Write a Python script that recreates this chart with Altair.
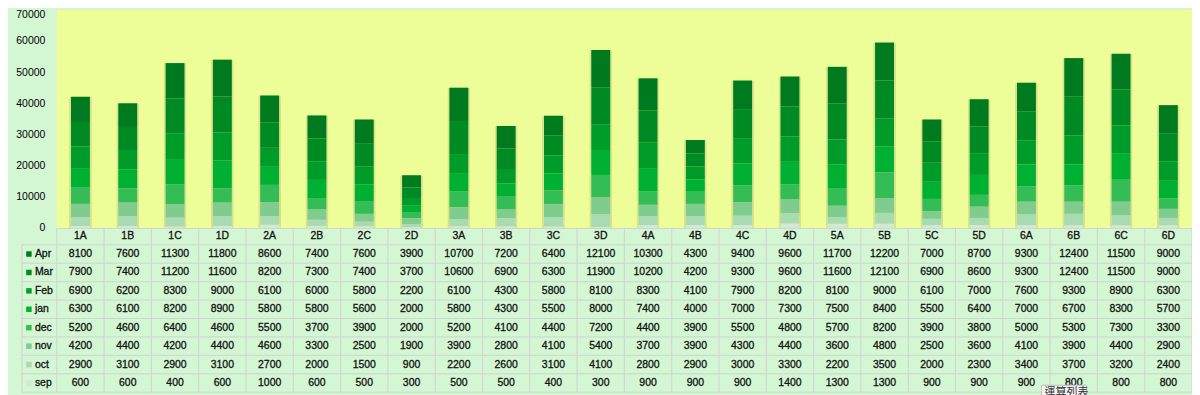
import altair as alt
import pandas as pd

categories = ["1A", "1B", "1C", "1D", "2A", "2B", "2C", "2D", "3A", "3B", "3C", "3D",
              "4A", "4B", "4C", "4D", "5A", "5B", "5C", "5D", "6A", "6B", "6C", "6D"]
series = ["Apr", "Mar", "Feb", "jan", "dec", "nov", "oct", "sep"]

apr = [8100, 7600, 11300, 11800, 8600, 7400, 7600, 3900, 10700, 7200, 6400, 12100,
       10300, 4300, 9400, 9600, 11700, 12200, 7000, 8700, 9300, 12400, 11500, 9000]
mar = [7900, 7400, 11200, 11600, 8200, 7300, 7400, 3700, 10600, 6900, 6300, 11900,
       10200, 4200, 9300, 9600, 11600, 12100, 6900, 8600, 9300, 12400, 11500, 9000]
feb = [6900, 6200, 8300, 9000, 6100, 6000, 5800, 2200, 6100, 4300, 5800, 8100,
       8300, 4100, 7900, 8200, 8100, 9000, 6100, 7000, 7600, 9300, 8900, 6300]
jan = [6300, 6100, 8200, 8900, 5800, 5800, 5600, 2000, 5800, 4300, 5500, 8000,
       7400, 4000, 7000, 7300, 7500, 8400, 5500, 6400, 7000, 6700, 8300, 5700]
dec = [5200, 4600, 6400, 4600, 5500, 3700, 3900, 2000, 5200, 4100, 4400, 7200,
       4400, 3900, 5500, 4800, 5700, 8200, 3900, 3800, 5000, 5300, 7300, 3300]
nov = [4200, 4400, 4200, 4400, 4600, 3300, 2500, 1900, 3900, 2800, 4100, 5400,
       3700, 3900, 4300, 4400, 3600, 4800, 2500, 3600, 4100, 3900, 4400, 2900]
oct_ = [2900, 3100, 2900, 3100, 2700, 2000, 1500, 900, 2200, 2600, 3100, 4100,
        2800, 2900, 3000, 3300, 2200, 3500, 2000, 2300, 3400, 3700, 3200, 2400]
sep = [600, 600, 400, 600, 1000, 600, 500, 300, 500, 500, 400, 300,
       900, 900, 900, 1400, 1300, 1300, 900, 900, 900, 800, 800, 800]

colors = ["#007a1e", "#008a24", "#009c2a", "#00b032", "#35bd55", "#80cc8e", "#a9dbb2", "#d2e9d6"]
y_ticks = [0, 10000, 20000, 30000, 40000, 50000, 60000, 70000]
tooltip_text = ["運算列表"]

FONT = "Liberation Sans"
W = 1140
H = 387
BG = "#d3f6d3"
PLOT_BG = "#edfd98"
GRID = "#d2d2d2"
TXT = "#111111"

rows = []
for si, (name, vals) in enumerate(zip(series, [apr, mar, feb, jan, dec, nov, oct_, sep])):
    for c, v in zip(categories, vals):
        rows.append({"cat": c, "series": name, "value": v,
                     "stack": len(series) - 1 - si, "row": si + 1.5})
df = pd.DataFrame(rows)

head_df = pd.DataFrame({"cat": categories, "row": [0.54] * len(categories)})
leg_df = pd.DataFrame({"series": series, "row": [i + 1.5 for i in range(len(series))]})
hlines_df = pd.DataFrame({"row": list(range(1, len(series) + 2))})
vlines_df = pd.DataFrame({"cat": categories})

xscale = alt.Scale(domain=categories, paddingInner=0, paddingOuter=0)
xenc = alt.X("cat:N", scale=xscale, sort=categories, axis=None)
ybar = alt.Scale(domain=[0, 70000], range=[220, 1], nice=False)
ytab = alt.Scale(domain=[1, 9], range=[237, 385], nice=False, zero=False)
cscale = alt.Scale(domain=series, range=colors)

plot_bg = alt.Chart(pd.DataFrame({"a": [0]})).mark_rect(color=PLOT_BG).encode(
    x=alt.value(0), x2=alt.value(W), y=alt.value(1), y2=alt.value(220)
)

shadow = alt.Chart(df).transform_aggregate(
    total="sum(value)", groupby=["cat"]
).mark_bar(width=23, color="#c4cf80", opacity=0.55, cornerRadiusTopLeft=2,
           cornerRadiusTopRight=2).encode(
    x=xenc,
    y=alt.Y("total:Q", scale=ybar, axis=None),
)

bars = alt.Chart(df).mark_bar(width=19).encode(
    x=xenc,
    y=alt.Y("value:Q", stack="zero", scale=ybar,
            axis=alt.Axis(values=y_ticks, grid=True, gridColor=GRID, gridWidth=1,
                          domain=False, ticks=False, labelPadding=12, title=None,
                          labelFont=FONT, labelFontSize=10.5, labelColor="#000000",
                          labelBaseline=alt.condition("datum.value == 70000",
                                                      alt.value("top"), alt.value("middle")),
                          format="d")),
    color=alt.Color("series:N", scale=cscale, legend=None),
    order=alt.Order("stack:Q", sort="ascending"),
)

hlines = alt.Chart(hlines_df).mark_rule(color=GRID, strokeWidth=1).encode(
    x=alt.value(-35), x2=alt.value(W),
    y=alt.Y("row:Q", scale=ytab, axis=None),
)

vlines = alt.Chart(vlines_df).mark_rule(color=GRID, strokeWidth=1).encode(
    x=alt.X("cat:N", scale=xscale, sort=categories, axis=None, bandPosition=0),
    y=alt.value(220), y2=alt.value(385),
)

edge_lines = alt.Chart(pd.DataFrame({"a": [0]})).mark_rule(color=GRID, strokeWidth=1).encode(
    x=alt.value(W), y=alt.value(220), y2=alt.value(385)
)
leg_edge = alt.Chart(pd.DataFrame({"a": [0]})).mark_rule(color=GRID, strokeWidth=1).encode(
    x=alt.value(-35), y=alt.value(237), y2=alt.value(385)
)

text_style = dict(font=FONT, fontSize=10.5, color=TXT, stroke=TXT, strokeWidth=0.3)

cells = alt.Chart(df).mark_text(**text_style).encode(
    x=xenc,
    y=alt.Y("row:Q", scale=ytab, axis=None),
    text=alt.Text("value:Q", format="d"),
)

heads = alt.Chart(head_df).mark_text(**text_style).encode(
    x=xenc,
    y=alt.Y("row:Q", scale=ytab, axis=None),
    text="cat:N",
)

leg_sw = alt.Chart(leg_df).mark_square(size=30, opacity=1).encode(
    x=alt.value(-28),
    y=alt.Y("row:Q", scale=ytab, axis=None),
    color=alt.Color("series:N", scale=cscale, legend=None),
)

leg_txt = alt.Chart(leg_df).mark_text(align="left", **text_style).encode(
    x=alt.value(-22),
    y=alt.Y("row:Q", scale=ytab, axis=None),
    text="series:N",
)

tip_df = pd.DataFrame({"t": tooltip_text})
tip_box = alt.Chart(tip_df).mark_rect(color="#f4f4f4", stroke="#bdbdbd", strokeWidth=1).encode(
    x=alt.value(989), x2=alt.value(1034), y=alt.value(378), y2=alt.value(392)
)
tip_txt = alt.Chart(tip_df).mark_text(font="Noto Sans CJK TC", fontSize=11, color="#333333",
                                      align="left", baseline="top").encode(
    x=alt.value(992), y=alt.value(380), text="t:N"
)

chart = alt.layer(
    plot_bg, shadow, bars, hlines, vlines, edge_lines, leg_edge, cells, heads, leg_sw, leg_txt,
    tip_box, tip_txt
).resolve_scale(y="independent").properties(
    width=W, height=H,
    autosize=alt.AutoSizeParams(type="none"),
    padding={"left": 49, "top": 0, "right": 0, "bottom": 0},
    background=BG,
).configure_view(strokeWidth=0)

chart.save("out.html", embed_options={"renderer": "svg", "actions": False})
